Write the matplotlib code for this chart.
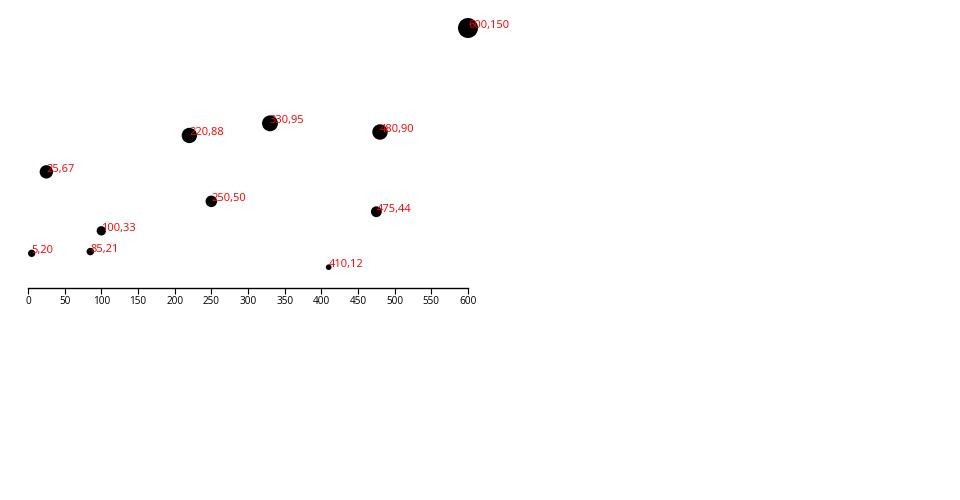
import matplotlib
matplotlib.use("Agg")
import matplotlib.pyplot as plt

xs = [5, 480, 250, 100, 330, 410, 475, 25, 85, 220, 600]
ys = [20, 90, 50, 33, 95, 12, 44, 67, 21, 88, 150]
xticks = [0, 50, 100, 150, 200, 250, 300, 350, 400, 450, 500, 550, 600]

plt.rcParams['font.family'] = ['Open Sans', 'DejaVu Sans']

fig = plt.figure(figsize=(9.6, 5), dpi=100)
ax = fig.add_axes([28/960, 212/500, 440/960, 260/500])

# area proportional to y (sqrt radius scale, max radius 10px)
sizes = [207 * y / 150 for y in ys]
ax.scatter(xs, ys, s=sizes, c="black", linewidths=0, clip_on=False, zorder=2)
for x, y in zip(xs, ys):
    ax.text(x, y, f"{x},{y}", color="red", fontsize=8.0, ha="left", va="baseline",
            clip_on=False, zorder=3)

ax.set_xlim(0, 600)
ax.set_ylim(0, 150)
for s in ["top", "left", "right"]:
    ax.spines[s].set_visible(False)
ax.spines["bottom"].set_linewidth(1)
ax.set_yticks([])
ax.set_xticks(xticks)
ax.set_xticklabels([str(t) for t in xticks])
ax.tick_params(axis="x", direction="out", length=4.3, width=0.8, pad=1.2, labelsize=7.2)

fig.savefig("out.png", dpi=100)
